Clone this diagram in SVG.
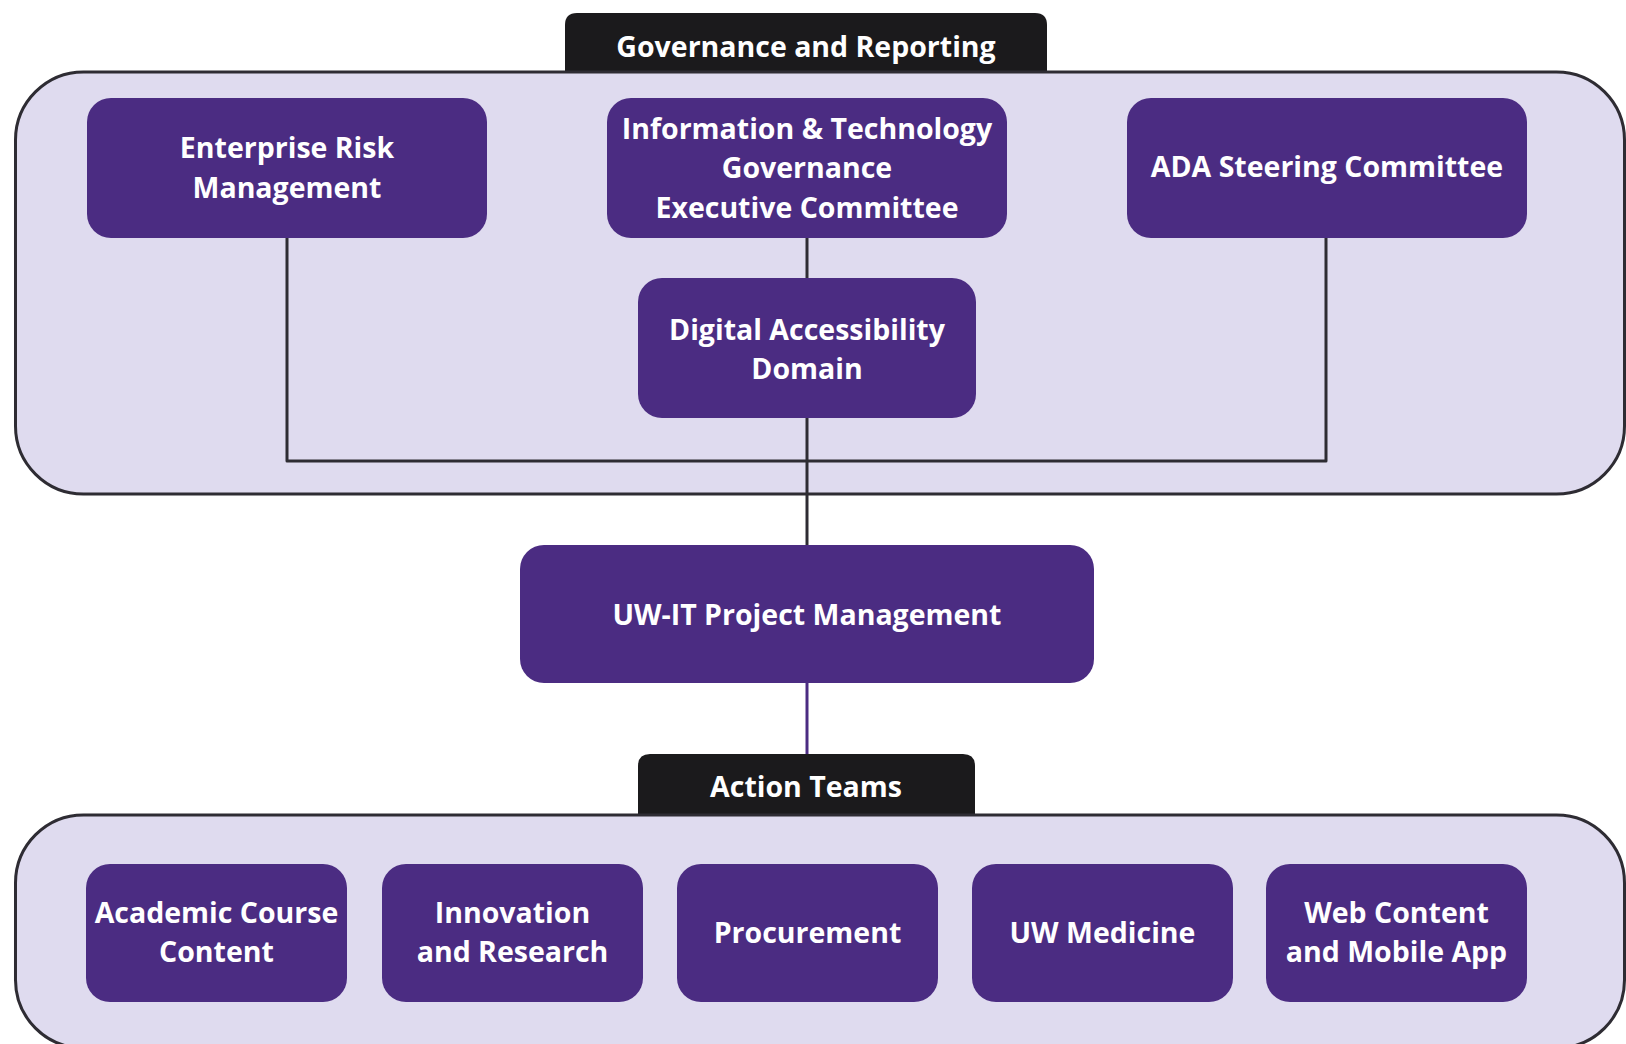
<svg xmlns="http://www.w3.org/2000/svg" width="1626" height="1044" viewBox="0 0 1626 1044">
  <style>
    .panel { fill: #dfdbef; stroke: #2e2c33; stroke-width: 3; }
    .tab { fill: #1b1a1c; }
    .box { fill: #4b2c82; }
    .lbl { fill: #ffffff; font-family: "Open Sans", "Noto Sans", "Liberation Sans", sans-serif; font-weight: 700; font-size: 28.5px; text-anchor: middle; }
    .wire { fill: none; stroke: #2e2c33; stroke-width: 3; stroke-linejoin: round; }
    .wire-p { fill: none; stroke: #4b2c82; stroke-width: 3; }
  </style>
  <rect width="1626" height="1044" fill="#ffffff"/>

  <!-- Governance panel -->
  <g id="governance-panel">
    <path class="tab" d="M565 72 V25 Q565 13 577 13 H1035 Q1047 13 1047 25 V72 Z"/>
    <rect class="panel" x="15.5" y="72" width="1609" height="422" rx="68" ry="68"/>
    <text class="lbl" x="806" y="57" font-size="27.5">Governance and Reporting</text>
  </g>

  <!-- Action teams panel -->
  <g id="action-panel">
    <path class="tab" d="M638 815 V766 Q638 754 650 754 H963 Q975 754 975 766 V815 Z"/>
    <rect class="panel" x="15.5" y="815" width="1609" height="233" rx="68" ry="68"/>
    <text class="lbl" x="806" y="797" font-size="27.5">Action Teams</text>
  </g>

  <!-- Connectors -->
  <g id="connectors">
    <path class="wire" d="M287 238 V461 H1326 V238"/>
    <path class="wire" d="M807 238 V278"/>
    <path class="wire" d="M807 418 V545"/>
    <path class="wire-p" d="M807 683 V754"/>
  </g>

  <!-- Governance nodes -->
  <g id="enterprise-risk">
    <rect class="box" x="87" y="98" width="400" height="140" rx="24"/>
    <text class="lbl" x="287" y="158">Enterprise Risk</text>
    <text class="lbl" x="287" y="198">Management</text>
  </g>
  <g id="it-governance">
    <rect class="box" x="607" y="98" width="400" height="140" rx="24"/>
    <text class="lbl" x="807" y="139">Information &amp; Technology</text>
    <text class="lbl" x="807" y="178">Governance</text>
    <text class="lbl" x="807" y="218">Executive Committee</text>
  </g>
  <g id="ada-steering">
    <rect class="box" x="1127" y="98" width="400" height="140" rx="24"/>
    <text class="lbl" x="1327" y="177">ADA Steering Committee</text>
  </g>
  <g id="digital-accessibility">
    <rect class="box" x="638" y="278" width="338" height="140" rx="24"/>
    <text class="lbl" x="807" y="340">Digital Accessibility</text>
    <text class="lbl" x="807" y="379">Domain</text>
  </g>

  <!-- Project management -->
  <g id="uwit-pm">
    <rect class="box" x="520" y="545" width="574" height="138" rx="24"/>
    <text class="lbl" x="807" y="625">UW-IT Project Management</text>
  </g>

  <!-- Action team nodes -->
  <g id="academic-course">
    <rect class="box" x="86" y="864" width="261" height="138" rx="24"/>
    <text class="lbl" x="216.5" y="923">Academic Course</text>
    <text class="lbl" x="216.5" y="962">Content</text>
  </g>
  <g id="innovation-research">
    <rect class="box" x="382" y="864" width="261" height="138" rx="24"/>
    <text class="lbl" x="512.5" y="923">Innovation</text>
    <text class="lbl" x="512.5" y="962">and Research</text>
  </g>
  <g id="procurement">
    <rect class="box" x="677" y="864" width="261" height="138" rx="24"/>
    <text class="lbl" x="807.5" y="943">Procurement</text>
  </g>
  <g id="uw-medicine">
    <rect class="box" x="972" y="864" width="261" height="138" rx="24"/>
    <text class="lbl" x="1102.5" y="943">UW Medicine</text>
  </g>
  <g id="web-mobile">
    <rect class="box" x="1266" y="864" width="261" height="138" rx="24"/>
    <text class="lbl" x="1396.5" y="923">Web Content</text>
    <text class="lbl" x="1396.5" y="962">and Mobile App</text>
  </g>
</svg>
